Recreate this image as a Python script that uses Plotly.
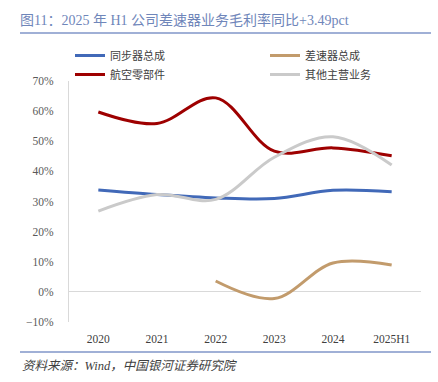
import plotly.graph_objects as go

categories = ["2020", "2021", "2022", "2023", "2024", "2025H1"]
sync_assembly = [33.8, 32.3, 31.2, 31.0, 33.7, 33.2]
diff_assembly = [None, None, 3.6, -2.2, 9.6, 8.9]
aero_parts = [59.7, 55.9, 64.4, 46.7, 47.8, 45.2]
other_business = [26.8, 32.3, 30.7, 44.7, 51.5, 42.1]

series = [
    ("同步器总成", sync_assembly, "#4169B8", "legend"),
    ("差速器总成", diff_assembly, "#C29B6C", "legend2"),
    ("航空零部件", aero_parts, "#9E0000", "legend"),
    ("其他主营业务", other_business, "#CACACA", "legend2"),
]

W, H = 438, 382
L, R, T, B = 69, 17, 81, 60
pw = W - L - R
ph = H - T - B

fig = go.Figure()
for name, vals, color, lg in series:
    fig.add_trace(go.Scatter(
        x=categories, y=vals, name=name, mode="lines", legend=lg,
        line=dict(color=color, width=3, shape="spline", smoothing=1.0),
        connectgaps=False,
    ))

serif = "Liberation Serif, Noto Sans CJK SC, serif"
cjk = "Noto Sans CJK SC, Liberation Serif, sans-serif"

legend_common = dict(
    orientation="v", xref="container", yref="container",
    y=1 - 41 / H, yanchor="top",
    font=dict(family=serif, size=11, color="#404040"),
    itemwidth=30, tracegroupgap=0, bgcolor="rgba(0,0,0,0)",
)

fig.update_layout(
    width=W, height=H,
    margin=dict(l=L, r=R, t=T, b=B, autoexpand=False),
    paper_bgcolor="white", plot_bgcolor="white",
    font=dict(family=cjk, color="#595959", size=11),
    title=dict(
        text="图11：2025 年 H1 公司差速器业务毛利率同比+3.49pct",
        xref="container", yref="container",
        x=20 / W, xanchor="left", y=1 - 20 / H, yanchor="middle",
        font=dict(family=serif, size=14, color="#6F86BA"),
    ),
    legend=dict(legend_common, x=70 / W, xanchor="left"),
    legend2=dict(legend_common, x=265 / W, xanchor="left"),
    xaxis=dict(
        type="category", range=[-0.5, 5.5], showgrid=False, zeroline=False,
        showline=False, ticks="", ticklabelstandoff=8,
        tickfont=dict(family=serif, size=11.5, color="#404040"),
    ),
    yaxis=dict(
        range=[-10, 70], dtick=10, ticksuffix="%",
        showgrid=False, zeroline=True, zerolinecolor="#D9D9D9", zerolinewidth=1,
        showline=True, linecolor="#D9D9D9", linewidth=1,
        ticks="", ticklabelstandoff=12,
        tickfont=dict(family=serif, size=11.5, color="#595959"),
    ),
    shapes=[
        dict(type="line", xref="paper", yref="paper",
             x0=(20 - L) / pw, x1=(431 - L) / pw,
             y0=1 + (T - 33) / ph, y1=1 + (T - 33) / ph,
             line=dict(color="#8096C8", width=1.5)),
        dict(type="line", xref="paper", yref="paper",
             x0=(20 - L) / pw, x1=(431 - L) / pw,
             y0=-(352 - (H - B)) / ph, y1=-(352 - (H - B)) / ph,
             line=dict(color="#8096C8", width=1.5)),
    ],
    annotations=[
        dict(text="资料来源：Wind，中国银河证券研究院", xref="paper", yref="paper",
             x=(20 - L) / pw, xanchor="left",
             y=-(366 - (H - B)) / ph, yanchor="middle",
             showarrow=False,
             font=dict(family=serif, size=12.5, color="#404040", style="italic")),
    ],
)

fig.write_html("out.html", config={"displayModeBar": False},
               post_script="document.body.style.margin='0';")
